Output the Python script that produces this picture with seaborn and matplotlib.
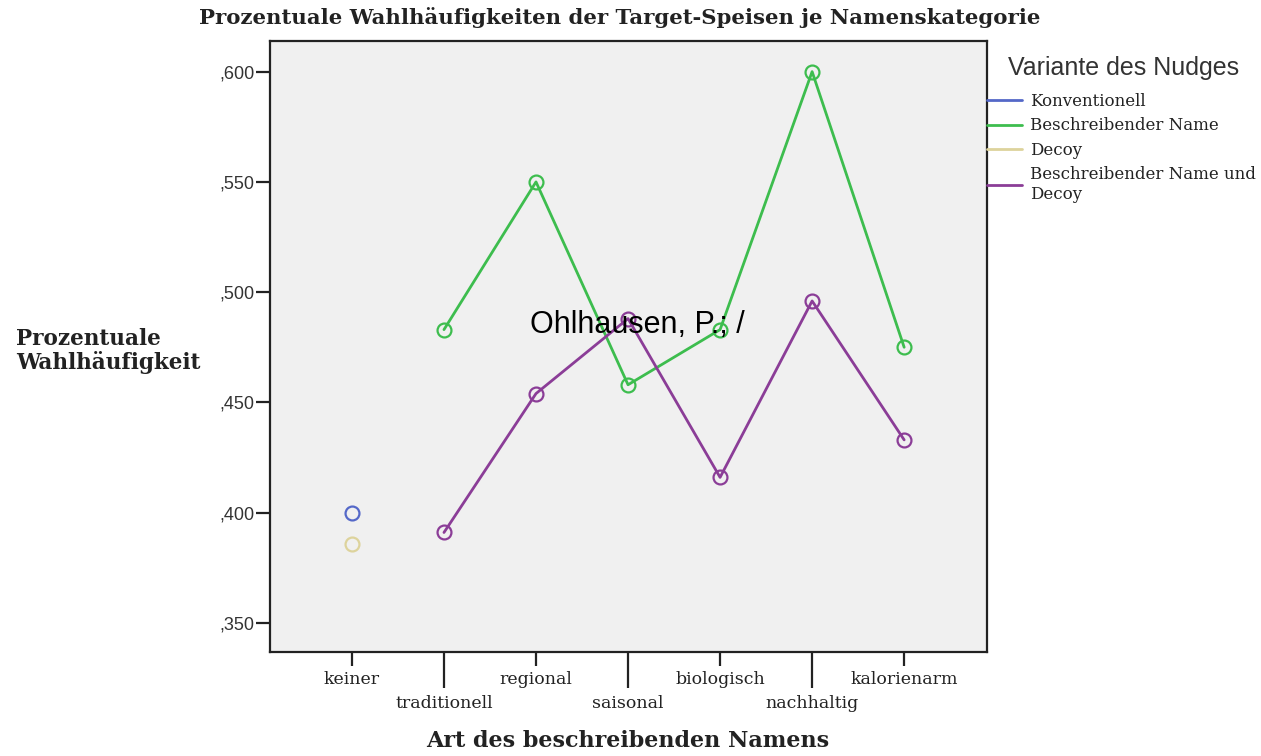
import numpy as np
import pandas as pd
import matplotlib
matplotlib.use("Agg")
import matplotlib.pyplot as plt
from matplotlib.lines import Line2D
from matplotlib.ticker import FixedLocator, FixedFormatter, FuncFormatter
import seaborn as sns

# data
categories = ["keiner", "traditionell", "regional", "saisonal",
              "biologisch", "nachhaltig", "kalorienarm"]
variants = ["Konventionell", "Beschreibender Name", "Decoy",
            "Beschreibender Name und\nDecoy"]

konventionell = {"keiner": 0.400}
decoy = {"keiner": 0.386}
beschreibend = [0.483, 0.550, 0.458, 0.483, 0.600, 0.475]
beschreibend_decoy = [0.391, 0.454, 0.488, 0.416, 0.496, 0.433]

colors = ["#5468C8", "#3DBD4E", "#DDD39C", "#8B3D97"]

rows = []
for cat, v in konventionell.items():
    rows.append((cat, v, variants[0]))
for cat, v in zip(categories[1:], beschreibend):
    rows.append((cat, v, variants[1]))
for cat, v in decoy.items():
    rows.append((cat, v, variants[2]))
for cat, v in zip(categories[1:], beschreibend_decoy):
    rows.append((cat, v, variants[3]))
df = pd.DataFrame(rows, columns=["kategorie", "wert", "variante"])
df["pos"] = df["kategorie"].map({c: i for i, c in enumerate(categories)})

sns.set_style("white")
serif = "DejaVu Serif"
sans = "Liberation Sans"

fig = plt.figure(figsize=(12.61, 7.56), dpi=100)
ax = fig.add_axes([270 / 1261, 1 - 652 / 756, 717 / 1261, 611 / 756])
ax.set_facecolor("#F0F0F0")

sns.lineplot(data=df, x="pos", y="wert", hue="variante", hue_order=variants,
             palette=colors, marker="o", markersize=10, linewidth=2,
             sort=False, legend=False, ax=ax)
for line in ax.lines:
    line.set_markerfacecolor("none")
    line.set_markeredgecolor(line.get_color())
    line.set_markeredgewidth(1.6)

ax.set_xlim(-0.89, 6.90)
ax.set_ylim(0.3368, 0.6139)
ax.set_xlabel("")
ax.set_ylabel("")

for s in ax.spines.values():
    s.set_color("#222222")
    s.set_linewidth(1.6)

# y axis
ax.set_yticks([0.35, 0.40, 0.45, 0.50, 0.55, 0.60])
ax.yaxis.set_major_formatter(FuncFormatter(lambda v, p: ("%.3f" % v)[1:].replace(".", ",")))
ax.tick_params(axis="y", length=10, width=1.6, color="#222222", pad=1,
               labelsize=13, left=True)
for t in ax.get_yticklabels():
    t.set_fontfamily(sans)
    t.set_color("#333333")

# x axis: alternating rows, long ticks for the lower row
ax.xaxis.set_major_locator(FixedLocator([0, 2, 4, 6]))
ax.xaxis.set_major_formatter(FixedFormatter(categories[0::2]))
ax.xaxis.set_minor_locator(FixedLocator([1, 3, 5]))
ax.xaxis.set_minor_formatter(FixedFormatter(categories[1::2]))
ax.tick_params(axis="x", which="major", length=10, width=1.6, color="#222222",
               pad=4, labelsize=12.5, bottom=True)
ax.tick_params(axis="x", which="minor", length=26, width=1.6, color="#222222",
               pad=5, labelsize=12.5, bottom=True)
for t in ax.get_xticklabels(which="both"):
    t.set_fontfamily(serif)
    t.set_color("#222222")

# texts
fig.text(620 / 1261, 1 - 18 / 756,
         "Prozentuale Wahlhäufigkeiten der Target-Speisen je Namenskategorie",
         ha="center", va="center", fontsize=15.3, fontweight="bold",
         family=serif, color="#222222")
fig.text(16 / 1261, 1 - 351 / 756, "Prozentuale\nWahlhäufigkeit",
         ha="left", va="center", fontsize=15.5, fontweight="bold",
         family=serif, color="#222222", linespacing=1.1)
fig.text(628 / 1261, 1 - 741 / 756, "Art des beschreibenden Namens",
         ha="center", va="center", fontsize=16, fontweight="bold",
         family=serif, color="#222222")
fig.text(637 / 1261, 1 - 333 / 756, "Ohlhausen, P.; /",
         ha="center", va="baseline", fontsize=22, family=sans, color="black")

# legend
fig.text(1008 / 1261, 1 - 68 / 756, "Variante des Nudges", ha="left",
         va="center", fontsize=18, family=sans, color="#333333")
handles = [Line2D([], [], color=c, linewidth=2) for c in colors]
leg = fig.legend(handles, variants, loc="upper left",
                 bbox_to_anchor=(987 / 1261, 1 - 93 / 756),
                 frameon=False, handlelength=2.1, handletextpad=0.5,
                 labelspacing=0.45, borderaxespad=0, borderpad=0,
                 prop={"family": serif, "size": 12})
for t in leg.get_texts():
    t.set_color("#222222")

fig.savefig("out.png", dpi=100)
